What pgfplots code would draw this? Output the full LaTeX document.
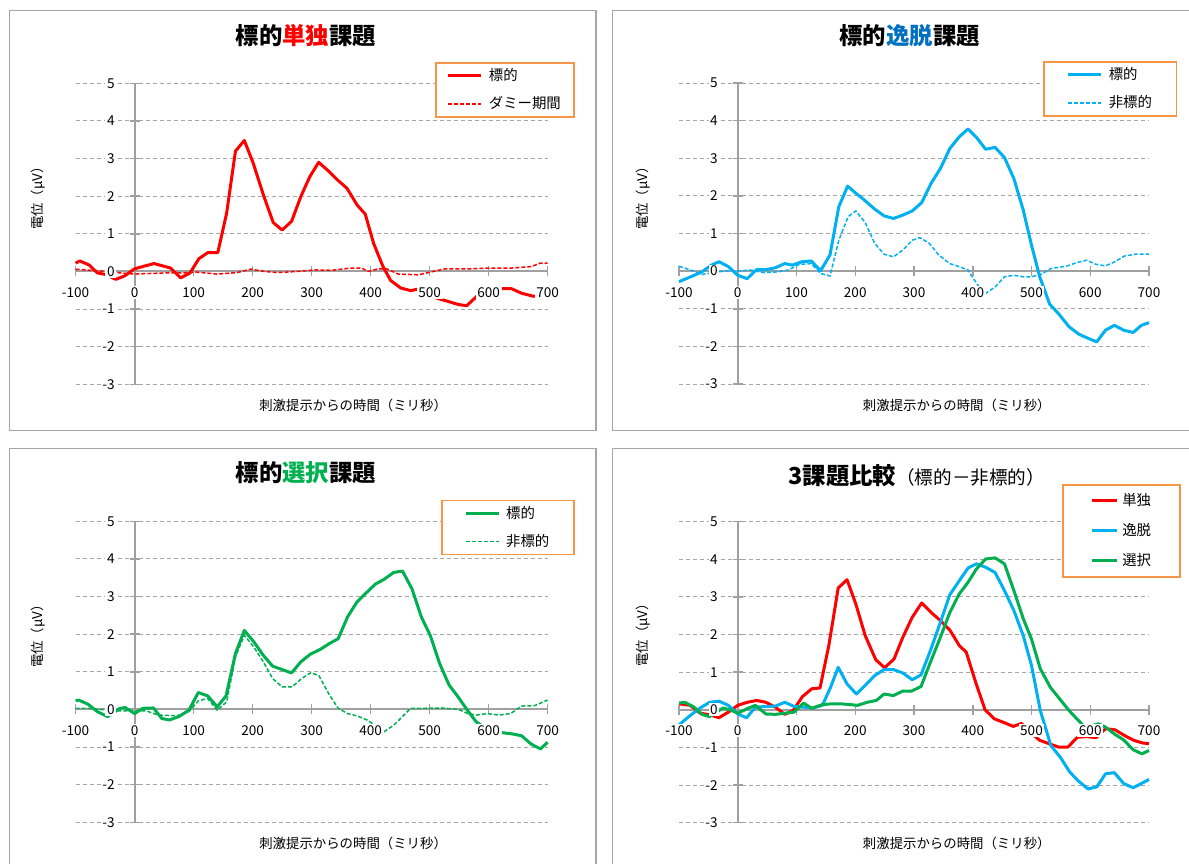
\documentclass[border=0pt]{standalone}
\usepackage{fontspec}
\setmainfont{Noto Sans CJK JP}
\usepackage{pgfplots}
\pgfplotsset{compat=1.18}
\definecolor{cred}{HTML}{FF0000}
\definecolor{cblue}{HTML}{00B0F0}
\definecolor{cgreen}{HTML}{00B050}
\definecolor{tblue}{HTML}{0070C0}
\definecolor{legor}{HTML}{F79646}
\definecolor{axgray}{HTML}{A0A0A0}
\definecolor{grgray}{HTML}{A6A6A6}
\definecolor{frgray}{HTML}{A6A6A6}
\newcommand\tfont{\fontsize{11.7pt}{14pt}\selectfont\bfseries}
\newcommand\lfont{\fontsize{6.7pt}{8pt}\selectfont}
\pgfplotsset{
 layers/mylayers/.define layer set={axis background,axis grid,axis ticks,axis lines,pre main,main,axis tick labels,axis descriptions,axis foreground}{
   grid style={/pgfplots/on layer=axis grid},
   tick style={/pgfplots/on layer=axis ticks},
   axis line style={/pgfplots/on layer=axis lines},
   label style={/pgfplots/on layer=axis descriptions},
   legend style={/pgfplots/on layer=axis descriptions},
   title style={/pgfplots/on layer=axis descriptions},
   colorbar style={/pgfplots/on layer=axis descriptions},
   ticklabel style={/pgfplots/on layer=axis tick labels},
   axis background@ style={/pgfplots/on layer=axis background},
   3d box foreground style={/pgfplots/on layer=axis foreground},
 },
 erp/.style={set layers=mylayers, scale only axis, height=150.5pt, anchor=south west,
   xmin=-100, xmax=700, ymin=-3, ymax=5, enlargelimits=false,
   axis lines=middle, axis line style={-, draw=axgray, line width=1pt},
   xtick={-100,0,100,200,300,400,500,600,700}, ytick={-3,-2,-1,0,1,2,3,4,5},
   hide obscured x ticks=false, hide obscured y ticks=false,
   tick align=center, major tick length=5pt, tick style={draw=axgray, line width=0.75pt},
   ymajorgrids, grid style={draw=grgray, line width=0.5pt, dash pattern=on 2pt off 1.5pt},
   ticklabel style={font=\fontsize{6.8pt}{8pt}\selectfont, fill=white, inner sep=0.8pt},
   xticklabel style={yshift=-4.5pt},
   yticklabel style={xshift=-6.5pt},
   /pgf/number format/assume math mode=true,
   clip=false, legend cell align=left,
   legend image code/.code={\draw[##1] (0pt,0pt) -- (16.5pt,0pt);},
   legend style={draw=legor, line width=0.9pt, fill=white, font=\fontsize{7.2pt}{8pt}\selectfont,
     anchor=north east, inner ysep=2pt, row sep=5pt, column sep=2pt,
     nodes={inner sep=1pt, text height=5.8pt, text depth=1.2pt}},
 },
 sol/.style={line width=1.5pt, line join=round, no markers},
 das/.style={line width=0.75pt, no markers, dash pattern=on 2pt off 1pt},
}
\begin{document}
\begin{tikzpicture}
\draw[frgray, line width=0.75pt] (4.8pt,-5.35pt) rectangle (298pt,-215.35pt);
\draw[frgray, line width=0.75pt] (306.35pt,-5.35pt) rectangle (600pt,-215.35pt);
\draw[frgray, line width=0.75pt] (4.8pt,-224.15pt) rectangle (298pt,-440pt);
\draw[frgray, line width=0.75pt] (306.35pt,-224.15pt) rectangle (600pt,-440pt);

% ---------- top left ----------
\begin{axis}[erp, at={(37.8pt,-192.15pt)}, width=236pt,
  legend style={at={(1.0576,1.0708)}, inner xsep=5.5pt}]
\addplot[sol, cred] coordinates {(-100,0.22)(-93,0.28)(-77,0.17)(-63,-0.04)(-49,-0.08)(-32,-0.21)(-17,-0.12)(0,0.07)(16,0.14)(33,0.21)(61,0.09)(78,-0.17)(94,-0.04)(109,0.34)(124,0.5)(141,0.5)(156,1.55)(171,3.2)(186,3.48)(201,2.88)(219,2.0)(235,1.3)(250,1.1)(266,1.33)(282,2.0)(297,2.52)(312,2.9)(330,2.65)(344,2.43)(360,2.21)(377,1.77)(391,1.52)(405,0.75)(421,0.13)(434,-0.24)(451,-0.44)(468,-0.51)(480,-0.47)(497,-0.6)(512,-0.71)(532,-0.8)(549,-0.88)(563,-0.91)(580,-0.66)(600,-0.5)(620,-0.46)(639,-0.46)(656,-0.58)(676,-0.66)(688,-0.64)(700,-0.68)};
\addlegendentry{標的}
\addplot[das, cred] coordinates {(-100,0.06)(-75,0.03)(-46,0)(-24,-0.04)(0,-0.07)(50,-0.04)(78,-0.04)(106,-0.02)(140,-0.07)(174,-0.03)(197,0.06)(220,0)(242,-0.03)(276,0)(305,0.04)(334,0.03)(366,0.09)(385,0.09)(396,0.0)(413,0.07)(427,0.07)(447,-0.07)(481,-0.09)(498,-0.03)(526,0.07)(572,0.07)(600,0.09)(639,0.09)(673,0.13)(687,0.22)(700,0.22)};
\addlegendentry{ダミー期間}
\node[font=\tfont] at (axis description cs:0.488,1.157) {標的\textcolor{cred}{単独}課題};
\node[rotate=90,font=\lfont] at (axis description cs:-0.0788,0.629) {電位（μV）};
\node[font=\lfont] at (axis description cs:0.588,-0.069) {刺激提示からの時間（ミリ秒）};
\end{axis}

% ---------- top right ----------
\begin{axis}[erp, at={(339.5pt,-192pt)}, width=235pt,
  legend style={at={(1.0604,1.0731)}, inner xsep=11.25pt}]
\addplot[sol, cblue] coordinates {(-100,-0.28)(-80,-0.15)(-61,-0.02)(-45,0.16)(-32,0.25)(-16,0.12)(0,-0.11)(16,-0.2)(32,0.04)(48,0.04)(64,0.09)(80,0.2)(93,0.16)(109,0.25)(125,0.27)(141,0.01)(157,0.43)(172,1.71)(187,2.26)(201,2.07)(214,1.91)(233,1.65)(249,1.47)(265,1.4)(281,1.49)(297,1.6)(313,1.82)(329,2.33)(345,2.73)(361,3.26)(377,3.57)(392,3.78)(406,3.56)(422,3.24)(438,3.29)(454,3.02)(470,2.46)(486,1.62)(500,0.69)(514,-0.15)(531,-0.88)(546,-1.13)(564,-1.48)(581,-1.68)(597,-1.79)(611,-1.88)(626,-1.57)(641,-1.44)(657,-1.57)(673,-1.63)(687,-1.44)(700,-1.37)};
\addlegendentry{標的}
\addplot[das, cblue] coordinates {(-100,0.13)(-80,0.03)(-61,-0.09)(-42,-0.04)(-19,0.01)(0,0.0)(22,0.03)(45,-0.04)(67,-0.02)(86,0.03)(105,0.18)(125,0.2)(141,-0.06)(157,-0.13)(172,0.82)(188,1.45)(201,1.6)(217,1.29)(233,0.74)(249,0.45)(265,0.38)(281,0.56)(297,0.82)(310,0.89)(326,0.74)(342,0.43)(361,0.2)(377,0.12)(392,0.03)(399,-0.15)(410,-0.4)(422,-0.59)(438,-0.42)(454,-0.15)(470,-0.11)(486,-0.15)(500,-0.15)(517,-0.08)(533,0.07)(559,0.13)(578,0.23)(594,0.29)(610,0.18)(626,0.14)(642,0.25)(658,0.4)(677,0.45)(700,0.45)};
\addlegendentry{非標的}
\node[font=\tfont] at (axis description cs:0.491,1.156) {標的\textcolor{tblue}{逸脱}課題};
\node[rotate=90,font=\lfont] at (axis description cs:-0.0766,0.628) {電位（μV）};
\node[font=\lfont] at (axis description cs:0.591,-0.07) {刺激提示からの時間（ミリ秒）};
\end{axis}

% ---------- bottom left ----------
\begin{axis}[erp, at={(37.8pt,-411.15pt)}, width=236pt,
  legend style={at={(1.0576,1.0721)}, inner xsep=11.25pt}]
\addplot[sol, cgreen] coordinates {(-100,0.23)(-95,0.25)(-79,0.14)(-63,-0.06)(-46,-0.19)(-35,-0.08)(-25,0.03)(-16,0.05)(0,-0.11)(14,0.03)(32,0.04)(46,-0.24)(59,-0.28)(75,-0.19)(92,-0.02)(108,0.45)(124,0.36)(140,0.07)(155,0.36)(171,1.49)(186,2.1)(202,1.8)(218,1.44)(234,1.15)(250,1.06)(266,0.97)(282,1.27)(298,1.47)(314,1.59)(330,1.75)(345,1.88)(361,2.46)(377,2.86)(394,3.12)(408,3.33)(423,3.46)(439,3.64)(454,3.68)(470,3.21)(486,2.46)(501,1.97)(517,1.22)(533,0.65)(548,0.34)(564,-0.02)(579,-0.33)(600,-0.55)(624,-0.62)(640,-0.65)(656,-0.7)(672,-0.92)(688,-1.05)(700,-0.87)};
\addlegendentry{標的}
\addplot[das, cgreen] coordinates {(-100,0.03)(-79,0.03)(-58,0.0)(-42,-0.02)(-25,-0.04)(0,-0.04)(20,-0.04)(40,-0.15)(72,-0.17)(92,-0.06)(108,0.23)(124,0.29)(140,-0.02)(156,0.2)(171,1.4)(186,1.97)(202,1.66)(218,1.27)(234,0.82)(250,0.6)(267,0.6)(283,0.82)(298,0.97)(312,0.91)(329,0.42)(345,0.03)(361,-0.11)(377,-0.17)(394,-0.28)(410,-0.45)(423,-0.59)(439,-0.42)(454,-0.19)(468,0.03)(488,0.03)(520,0.04)(549,0.0)(565,-0.11)(579,-0.15)(598,-0.11)(617,-0.15)(637,-0.11)(656,0.09)(678,0.1)(700,0.25)};
\addlegendentry{非標的}
\node[font=\tfont] at (axis description cs:0.488,1.16) {標的\textcolor{cgreen}{選択}課題};
\node[rotate=90,font=\lfont] at (axis description cs:-0.0788,0.629) {電位（μV）};
\node[font=\lfont] at (axis description cs:0.588,-0.07) {刺激提示からの時間（ミリ秒）};
\end{axis}

% ---------- bottom right ----------
\begin{axis}[erp, at={(339.5pt,-411.35pt)}, width=235pt,
  legend image code/.code={\draw[#1] (0pt,0pt) -- (12.5pt,0pt);},
  legend style={at={(1.068,1.126)}, inner xsep=13.5pt, inner ysep=3.5pt, row sep=6pt, column sep=1pt}]
\addplot[sol, cred] coordinates {(-100,0.16)(-81,0.12)(-64,-0.09)(-48,-0.13)(-32,-0.21)(-16,-0.06)(0,0.12)(16,0.2)(32,0.25)(48,0.2)(64,0.07)(80,-0.12)(94,-0.02)(110,0.35)(126,0.56)(140,0.58)(155,1.71)(171,3.24)(186,3.46)(201,2.81)(217,1.97)(235,1.33)(250,1.12)(266,1.35)(281,1.93)(297,2.46)(313,2.84)(329,2.59)(345,2.37)(361,2.12)(377,1.71)(389,1.53)(405,0.73)(421,0.0)(437,-0.24)(455,-0.35)(469,-0.44)(483,-0.36)(498,-0.6)(514,-0.81)(530,-0.9)(546,-0.99)(562,-0.99)(578,-0.73)(594,-0.71)(610,-0.74)(626,-0.5)(642,-0.53)(658,-0.68)(674,-0.81)(689,-0.88)(700,-0.9)};
\addlegendentry{単独}
\addplot[sol, cblue] coordinates {(-100,-0.4)(-81,-0.15)(-64,0.05)(-48,0.2)(-32,0.23)(-16,0.12)(0,-0.11)(15,-0.21)(30,0.07)(48,0.09)(64,0.1)(80,0.2)(96,0.09)(112,0.07)(128,0.05)(144,0.12)(158,0.6)(171,1.13)(186,0.69)(202,0.42)(217,0.65)(233,0.91)(249,1.07)(265,1.07)(281,0.98)(297,0.8)(312,0.93)(328,1.58)(345,2.33)(361,3.06)(377,3.43)(392,3.77)(406,3.88)(422,3.79)(438,3.65)(454,3.17)(470,2.64)(486,1.97)(500,1.18)(515,-0.02)(533,-0.95)(549,-1.26)(565,-1.65)(579,-1.88)(596,-2.1)(611,-2.05)(626,-1.7)(641,-1.67)(657,-1.96)(673,-2.07)(688,-1.95)(700,-1.85)};
\addlegendentry{逸脱}
\addplot[sol, cgreen] coordinates {(-100,0.18)(-90,0.2)(-74,0.07)(-61,-0.12)(-48,-0.18)(-35,-0.05)(-25,0.05)(-13,0.0)(0,-0.09)(16,0.03)(30,0.12)(48,-0.11)(64,-0.12)(80,-0.09)(96,-0.06)(112,0.18)(126,0.04)(144,0.14)(160,0.16)(175,0.16)(191,0.14)(204,0.12)(220,0.2)(236,0.25)(249,0.42)(265,0.38)(281,0.5)(296,0.5)(312,0.62)(328,1.27)(345,1.93)(361,2.59)(377,3.08)(392,3.39)(406,3.74)(422,4.01)(438,4.04)(454,3.88)(470,3.17)(486,2.42)(500,1.88)(515,1.09)(532,0.6)(548,0.29)(564,-0.02)(579,-0.27)(591,-0.46)(603,-0.42)(614,-0.37)(626,-0.46)(642,-0.65)(657,-0.8)(673,-1.06)(688,-1.17)(700,-1.08)};
\addlegendentry{選択}
\node[font=\tfont] at (axis description cs:0.506,1.152) {3課題比較{\mdseries\fontsize{9.3pt}{11pt}\selectfont（標的－非標的）}};
\node[rotate=90,font=\lfont] at (axis description cs:-0.0766,0.634) {電位（μV）};
\node[font=\lfont] at (axis description cs:0.591,-0.068) {刺激提示からの時間（ミリ秒）};
\end{axis}
\pgfresetboundingbox
\path[use as bounding box] (0,0) rectangle (594.5pt,-431.5pt);
\end{tikzpicture}
\end{document}
